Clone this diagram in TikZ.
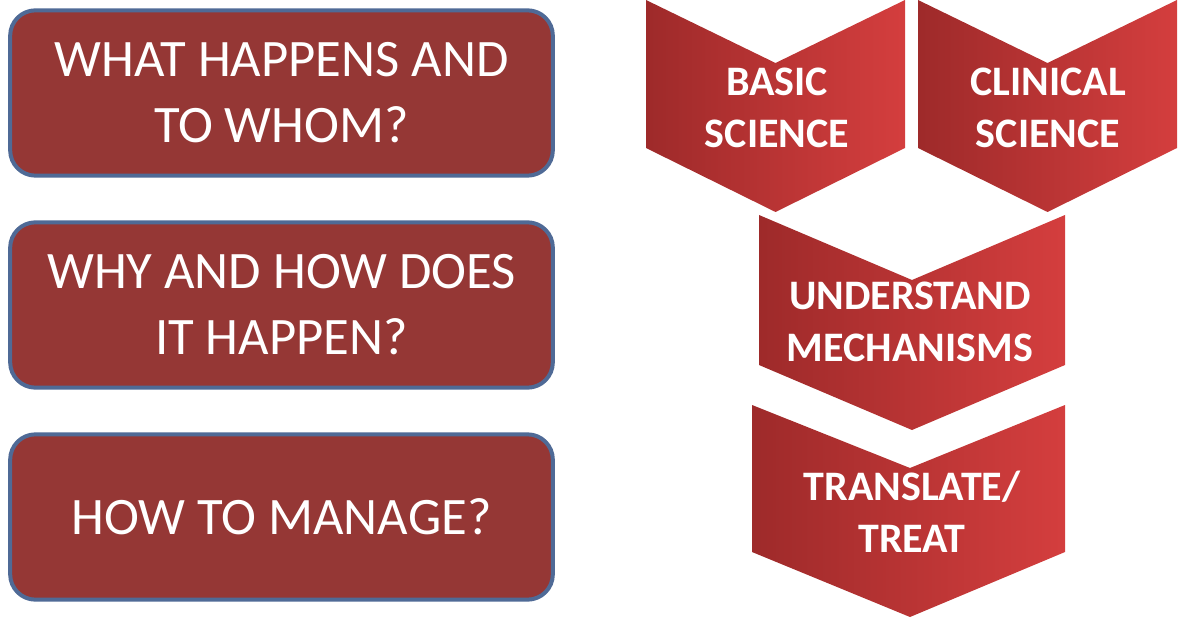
\documentclass[tikz,border=0pt]{standalone}
\usepackage{fontspec}
\setmainfont{Carlito}
\definecolor{boxfill}{RGB}{149,55,53}
\definecolor{boxline}{RGB}{79,106,150}
\definecolor{chevleft}{RGB}{158,42,42}
\definecolor{chevright}{RGB}{212,62,62}
\tikzset{
  qbox/.style={draw=boxline, line width=3pt, fill=boxfill, rounded corners=19pt,
    minimum width=407pt, minimum height=124pt, text=white, align=center,
    font=\fontsize{39.5}{49.5}\selectfont},
  chev/.style={left color=chevleft, right color=chevright},
  chevtext/.style={text=white, align=center, font=\bfseries\fontsize{31.5}{39}\selectfont},
}
\begin{document}
\begin{tikzpicture}[x=0.75pt,y=-0.75pt]
\useasboundingbox (0,0) rectangle (1181,620);
% questions
\node[qbox] (happen) at (281.5,93) {WHAT HAPPENS AND\\TO WHOM?};
\node[qbox] (why) at (281.5,305) {WHY AND HOW DOES\\IT HAPPEN?};
\node[qbox] (manage) at (281.5,517) {HOW TO MANAGE?};
% chevrons
\shade[chev] (646,0)--(775.5,63)--(905,0)--(905,148)--(775.5,212)--(646,148)--cycle;
\shade[chev] (918,0)--(1047.5,63)--(1177,0)--(1177,148)--(1047.5,212)--(918,148)--cycle;
\shade[chev] (759,215)--(912,280)--(1065,215)--(1065,365)--(912,430)--(759,365)--cycle;
\shade[chev] (752,405)--(910,468)--(1065,405)--(1065,552)--(910,617)--(752,552)--cycle;
\node[chevtext] (basic) at (777,108) {BASIC\\SCIENCE};
\node[chevtext] (clinical) at (1048,108) {CLINICAL\\SCIENCE};
\node[chevtext] (mech) at (910,322) {UNDERSTAND\\MECHANISMS};
\node[chevtext] (treat) at (912,512) {TRANSLATE/\\TREAT};
\end{tikzpicture}
\end{document}
